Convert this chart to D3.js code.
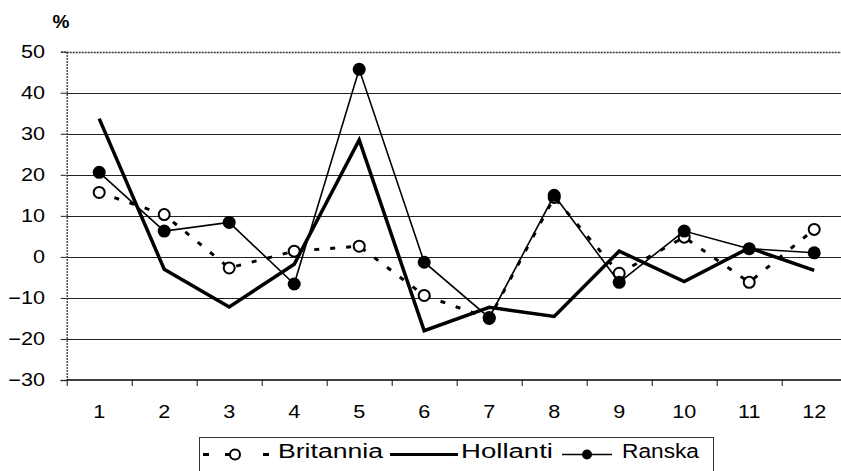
<!DOCTYPE html>
<html><head><meta charset="utf-8">
<script src="https://cdn.jsdelivr.net/npm/d3@7"></script>
<style>
body{margin:0;background:#fff}
svg{display:block}
text{font-family:"Liberation Sans",Arial,sans-serif;fill:#000}
</style>
</head><body>
<svg id="c" width="841" height="471"></svg>
<script>
// ---- data ----
const categories = ["1","2","3","4","5","6","7","8","9","10","11","12"];
const seriesNames = ["Britannia","Hollanti","Ranska"];
const britannia = [15.7, 10.3, -2.7, 1.4, 2.6, -9.4, -15, 14.5, -4, 4.8, -6.2, 6.7];
const hollanti  = [33.7, -3, -12.2, -1.8, 28.5, -18, -12.3, -14.5, 1.4, -6, 2.2, -3.3];
const ranska    = [20.6, 6.3, 8.4, -6.6, 45.7, -1.3, -14.8, 15, -6.2, 6.3, 2.0, 1.0];
const yTicks = [-30,-20,-10,0,10,20,30,40,50];
const unitLabel = "%";

// ---- layout ----
const svg = d3.select("#c");
const L = 66.7, R = 846.7, T = 51.7, B = 380;
const x = d3.scaleBand().domain(categories).range([L, R]);
const y = d3.scaleLinear().domain([-30, 50]).range([B, T]);
const xEdge = d3.scaleLinear().domain([0, categories.length]).range([L, R]);
const cx = d => x(d) + x.bandwidth() / 2;
const SX = 1.2;

// gridlines
svg.append("g").selectAll("line")
  .data(yTicks.filter(v => v > -30 && v < 50)).join("line")
  .attr("x1", L).attr("x2", R)
  .attr("y1", d => Math.round(y(d)) + 0.5).attr("y2", d => Math.round(y(d)) + 0.5)
  .attr("stroke", "#222").attr("stroke-width", 1.2);
// top border (dotted)
svg.append("line").attr("x1", L).attr("x2", R)
  .attr("y1", Math.round(y(50)) + 0.5).attr("y2", Math.round(y(50)) + 0.5)
  .attr("stroke", "#333").attr("stroke-width", 1.3).attr("stroke-dasharray", "2 1");

// y axis
const ya = svg.append("g").attr("transform", `translate(${L},0)`)
  .call(d3.axisLeft(y).tickValues(yTicks).tickSize(6).tickPadding(15));
ya.attr("font-family", null).attr("font-size", null);
ya.select(".domain").attr("stroke", "#333").attr("stroke-dasharray", "2 1").attr("stroke-width", 1.3);
ya.selectAll(".tick line").attr("stroke", "#222");
ya.selectAll(".tick text").attr("font-size", 18)
  .attr("x", -21.7 / SX).attr("transform", `scale(${SX},1)`);

// x axis labels
const xa = svg.append("g").attr("transform", `translate(0,${B})`)
  .call(d3.axisBottom(x).tickSize(0).tickPadding(25));
xa.attr("font-family", null).attr("font-size", null);
xa.select(".domain").remove();
xa.selectAll(".tick text").attr("font-size", 18).attr("transform", `scale(${SX},1)`);
// x axis line + boundary ticks
const xe = svg.append("g").attr("transform", `translate(0,${B})`)
  .call(d3.axisBottom(xEdge).tickValues(d3.range(0, categories.length + 1)).tickSize(6).tickFormat(""));
xe.select(".domain").attr("stroke", "#000").attr("stroke-width", 1.6).attr("d", `M${L},0H${R}`);
xe.selectAll(".tick line").attr("stroke", "#111");

// unit label
svg.append("text").attr("x", 61).attr("y", 28).attr("text-anchor", "middle")
  .attr("font-size", 19).attr("font-weight", "bold").text(unitLabel);

// ---- series ----
const line = d3.line().x((d, i) => cx(categories[i])).y(d => y(d));

svg.append("path").datum(britannia).attr("d", line)
  .attr("fill", "none").attr("stroke", "#000").attr("stroke-width", 3)
  .attr("stroke-dasharray", "5 11");
svg.append("g").selectAll("circle").data(britannia).join("circle")
  .attr("cx", (d, i) => cx(categories[i])).attr("cy", d => y(d)).attr("r", 5.5)
  .attr("fill", "#fff").attr("stroke", "#000").attr("stroke-width", 2);

svg.append("path").datum(hollanti).attr("d", line)
  .attr("fill", "none").attr("stroke", "#000").attr("stroke-width", 3.5)
  .attr("stroke-linejoin", "miter");

svg.append("path").datum(ranska).attr("d", line)
  .attr("fill", "none").attr("stroke", "#000").attr("stroke-width", 1.6);
svg.append("g").selectAll("circle").data(ranska).join("circle")
  .attr("cx", (d, i) => cx(categories[i])).attr("cy", d => y(d)).attr("r", 6.5)
  .attr("fill", "#000");

// ---- legend ----
const lg = svg.append("g");
lg.append("rect").attr("x", 199.5).attr("y", 437.5).attr("width", 514).attr("height", 45)
  .attr("fill", "#fff").attr("stroke", "#333").attr("stroke-width", 1);
const ly = 454.5;
// Britannia
lg.append("line").attr("x1", 203).attr("x2", 269).attr("y1", ly).attr("y2", ly)
  .attr("stroke", "#000").attr("stroke-width", 3).attr("stroke-dasharray", "6 16 6 32 6 100");
lg.append("circle").attr("cx", 235).attr("cy", ly).attr("r", 5)
  .attr("fill", "#fff").attr("stroke", "#000").attr("stroke-width", 2);
// Hollanti
lg.append("line").attr("x1", 390).attr("x2", 458).attr("y1", ly).attr("y2", ly)
  .attr("stroke", "#000").attr("stroke-width", 3);
// Ranska
lg.append("line").attr("x1", 562).attr("x2", 612).attr("y1", ly).attr("y2", ly)
  .attr("stroke", "#000").attr("stroke-width", 1.6);
lg.append("circle").attr("cx", 587).attr("cy", ly).attr("r", 5).attr("fill", "#000");

const legendText = [
  {name: seriesNames[0], x: 278, w: 105},
  {name: seriesNames[1], x: 461, w: 92},
  {name: seriesNames[2], x: 622, w: 77}
];
lg.selectAll("text.lt").data(legendText).join("text").attr("class", "lt")
  .attr("x", d => d.x).attr("y", 458).attr("font-size", 19.5)
  .attr("textLength", d => d.w).attr("lengthAdjust", "spacingAndGlyphs")
  .text(d => d.name);
</script>
</body></html>
